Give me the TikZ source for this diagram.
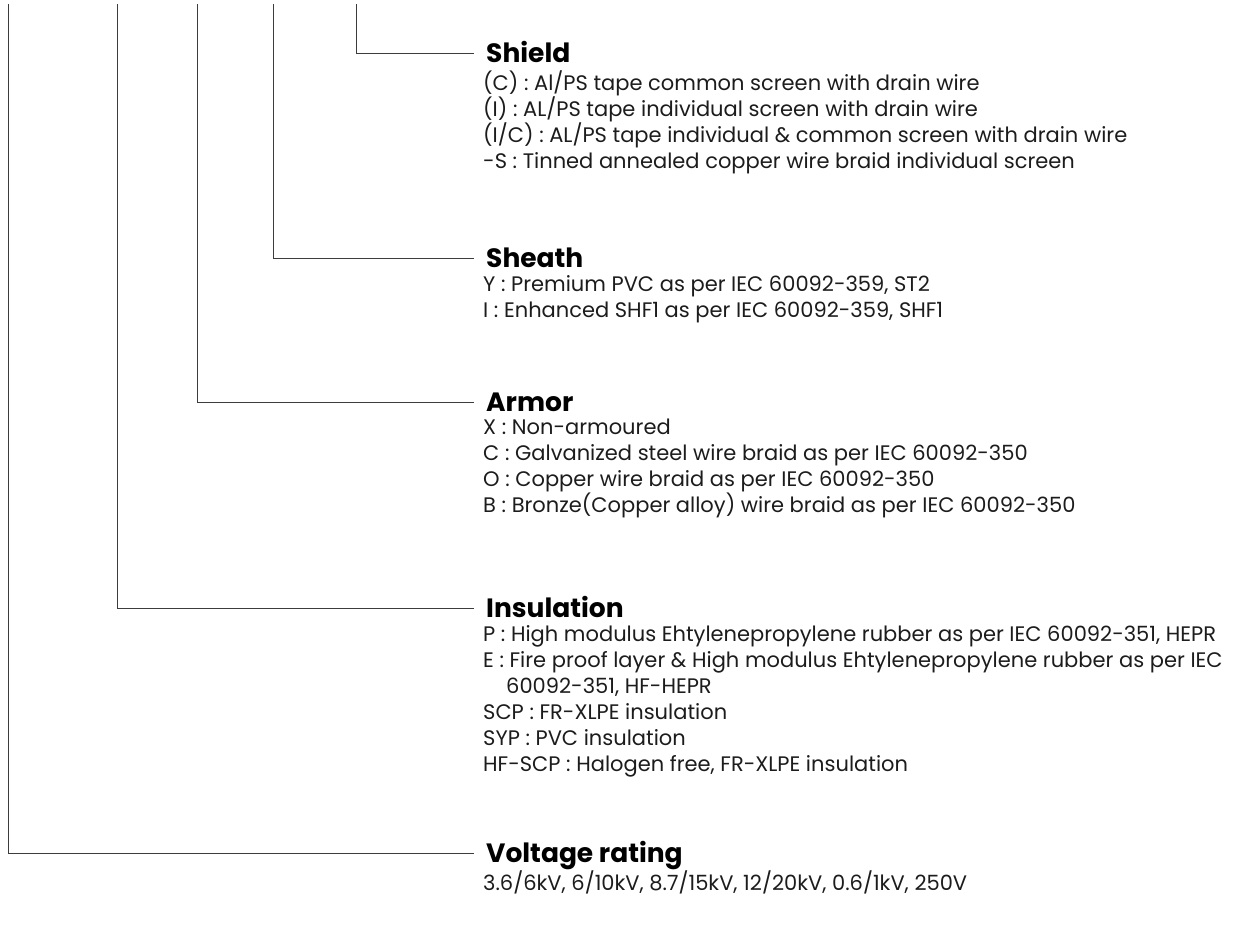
\documentclass[tikz,border=0pt]{standalone}
\usepackage{fontspec}
\setmainfont{Poppins}
\usetikzlibrary{positioning}
\definecolor{leadgray}{HTML}{3C3C3C}
\definecolor{itemblack}{HTML}{1C1C1C}

\begin{document}
\begin{tikzpicture}[x=1pt, y=-1pt,
  lead/.style={leadgray, line width=0.9pt},
  head/.style={font=\fontsize{26.5}{30}\selectfont\bfseries, anchor=base west, inner sep=0pt, text height=19pt, text depth=5pt},
  items/.style={font=\fontsize{21}{26}\selectfont, align=left, inner sep=0pt, itemblack}]
  \useasboundingbox (0,0) rectangle (1235,937);

  % Headings
  \node[head] (shield) at (486,62) {Shield};
  \node[head] (sheath) at (486,267) {Sheath};
  \node[head] (armor) at (486,411) {Armor};
  \node[head] (insulation) at (486,617) {Insulation};
  \node[head] (voltage) at (486,862) {Voltage rating};

  % Codes
  \node[items, below right=3pt and -3pt of shield.south west] (shieldlist) {%
    (C) : Al/PS tape common screen with drain wire\\
    (I) : AL/PS tape individual screen with drain wire\\
    (I/C) : AL/PS tape individual \& common screen with drain wire\\
    -S : Tinned annealed copper wire braid individual screen};
  \node[items, below right=3pt and -3pt of sheath.south west] (sheathlist) {%
    Y : Premium PVC as per IEC 60092-359, ST2\\
    I : Enhanced SHF1 as per IEC 60092-359, SHF1};
  \node[items, below right=3pt and -3pt of armor.south west] (armorlist) {%
    X : Non-armoured\\
    C : Galvanized steel wire braid as per IEC 60092-350\\
    O : Copper wire braid as per IEC 60092-350\\
    B : Bronze(Copper alloy) wire braid as per IEC 60092-350};
  \node[items, below right=3pt and -3pt of insulation.south west] (insulationlist) {%
    P : High modulus Ehtylenepropylene rubber as per IEC 60092-351, HEPR\\
    E : Fire proof layer \& High modulus Ehtylenepropylene rubber as per IEC\\
    \hspace*{23pt}60092-351, HF-HEPR\\
    SCP : FR-XLPE insulation\\
    SYP : PVC insulation\\
    HF-SCP : Halogen free, FR-XLPE insulation};
  \node[items, below right=3pt and -3pt of voltage.south west] (voltagelist) {%
    3.6/6kV, 6/10kV, 8.7/15kV, 12/20kV, 0.6/1kV, 250V};

  % Leaders
  \coordinate (shieldtop) at (356,4);
  \coordinate (sheathtop) at (273,4);
  \coordinate (armortop) at (197,4);
  \coordinate (insulationtop) at (117,4);
  \coordinate (voltagetop) at (8,4);
  \draw[lead] (shieldtop) |- ([xshift=-12pt, yshift=2pt]shield.west);
  \draw[lead] (sheathtop) |- ([xshift=-12pt, yshift=2pt]sheath.west);
  \draw[lead] (armortop) |- ([xshift=-12pt, yshift=2pt]armor.west);
  \draw[lead] (insulationtop) |- ([xshift=-12pt, yshift=2pt]insulation.west);
  \draw[lead] (voltagetop) |- ([xshift=-12pt, yshift=2pt]voltage.west);
\end{tikzpicture}
\end{document}
